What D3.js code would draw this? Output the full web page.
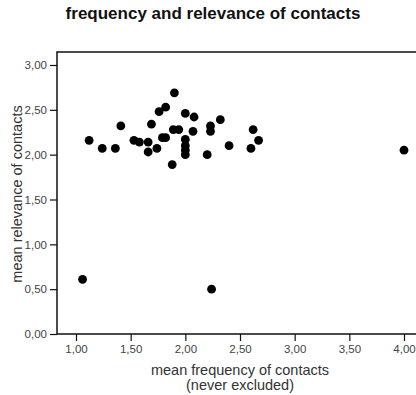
<!DOCTYPE html>
<html>
<head>
<meta charset="utf-8">
<script src="https://cdn.jsdelivr.net/npm/d3@7"></script>
<style>
  html, body { margin: 0; padding: 0; background: #fff; }
  svg { display: block; }
  text { font-family: "Liberation Sans", Arial, sans-serif; }
</style>
</head>
<body>
<script>
// Mean frequency (never excluded) vs mean relevance of contacts, one point per respondent
const frequency = [1.06, 2.24, 4.00, 1.12, 1.24, 1.36, 1.41, 1.53, 1.58, 1.66, 1.66, 1.69,
  1.74, 1.76, 1.82, 1.79, 1.82, 1.90, 1.88, 1.89, 1.94, 2.00, 2.00, 2.00, 2.00, 2.00,
  2.07, 2.08, 2.20, 2.23, 2.23, 2.32, 2.40, 2.60, 2.62, 2.67];
const relevance = [0.61, 0.50, 2.05, 2.16, 2.07, 2.07, 2.32, 2.16, 2.14, 2.14, 2.03, 2.34,
  2.07, 2.48, 2.53, 2.19, 2.19, 2.69, 1.89, 2.28, 2.28, 2.46, 2.17, 2.10, 2.05, 2.00,
  2.26, 2.42, 2.00, 2.32, 2.26, 2.39, 2.10, 2.07, 2.28, 2.16];
const xTicks = [1.0, 1.5, 2.0, 2.5, 3.0, 3.5, 4.0];
const yTicks = [0.0, 0.5, 1.0, 1.5, 2.0, 2.5, 3.0];
const title = "frequency and relevance of contacts";
const xTitle = ["mean frequency of contacts", "(never excluded)"];
const yTitle = "mean relevance of contacts";

const W = 416, H = 395;
const frame = { left: 57, top: 52, bottom: 334, right: 430 };

const x = d3.scaleLinear().domain([1, 4]).range([76, 404]);
const y = d3.scaleLinear().domain([0, 3]).range([334, 65]);
const fmt = d => d3.format(".2f")(d).replace(".", ",");

const svg = d3.select("body").append("svg").attr("width", W).attr("height", H);

svg.append("text")
  .attr("x", 213).attr("y", 19)
  .attr("text-anchor", "middle")
  .attr("font-size", 17).attr("font-weight", "bold").attr("fill", "#111")
  .text(title);

// Plot frame (open on the right, where it runs past the edge)
svg.append("path")
  .attr("d", `M${frame.right},${frame.top}H${frame.left}V${frame.bottom}H${frame.right}`)
  .attr("fill", "none").attr("stroke", "#111").attr("stroke-width", 1.5);

// Axes
const yAxis = d3.axisLeft(y).tickValues(yTicks).tickFormat(fmt).tickSize(7).tickPadding(3);
const xAxis = d3.axisBottom(x).tickValues(xTicks).tickFormat(fmt).tickSize(7).tickPadding(4);

const gy = svg.append("g").attr("transform", `translate(${frame.left},0)`).call(yAxis);
const gx = svg.append("g").attr("transform", `translate(0,${frame.bottom})`).call(xAxis);
[gx, gy].forEach(g => {
  g.select(".domain").remove();
  g.selectAll(".tick line").attr("stroke", "#111").attr("stroke-width", 1.2);
  g.selectAll(".tick text").attr("font-size", 11.5).attr("fill", "#444")
    .attr("font-family", "'Liberation Sans', Arial, sans-serif");
});

// Axis titles
svg.append("text")
  .attr("transform", "translate(21.5,194) rotate(-90)")
  .attr("text-anchor", "middle")
  .attr("font-size", 14.5).attr("fill", "#333")
  .text(yTitle);

svg.selectAll("text.xt").data(xTitle).join("text")
  .attr("class", "xt")
  .attr("x", 240).attr("y", (d, i) => 375 + i * 15)
  .attr("text-anchor", "middle")
  .attr("font-size", 14.5).attr("fill", "#333")
  .text(d => d);

// Points
svg.append("g").selectAll("circle")
  .data(frequency.map((f, i) => [f, relevance[i]]))
  .join("circle")
  .attr("cx", d => x(d[0])).attr("cy", d => y(d[1]))
  .attr("r", 4.4).attr("fill", "#000");
</script>
</body>
</html>
